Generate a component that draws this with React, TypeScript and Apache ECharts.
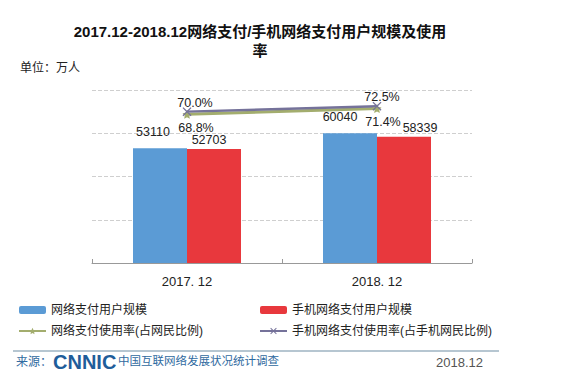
import React, { useEffect, useRef } from "react";
import * as echarts from "echarts";

const categories = ["2017. 12", "2018. 12"];
const netPayUsers = [53110, 60040];
const mobilePayUsers = [52703, 58339];
const netPayRate = [68.8, 71.4];
const mobilePayRate = [70.0, 72.5];

// label nudges (style only)
const blueLabelOffsets = [[-7, 0], [-10, 0]];
const redLabelOffsets = [[-5, 0], [16, 0]];
const greenLabelOffsets = [[9, 0], [6, 0]];
const purpleLabelOffsets = [[8, 0], [5, 0]];

const CJK = '"Liberation Sans", "Noto Sans CJK SC", sans-serif';
const STAR =
  "path://M0,-10 L2.9,-4 9.5,-3.1 4.8,1.5 5.9,8.1 0,5 -5.9,8.1 -4.8,1.5 -9.5,-3.1 -2.9,-4 Z";
const CROSS =
  "path://M-5,-4 L-4,-5 0,-1 4,-5 5,-4 1,0 5,4 4,5 0,1 -4,5 -5,4 -1,0 Z";

const withOffsets = (vals: number[], offs: number[][]) =>
  vals.map((v, i) => ({ value: v, label: { offset: offs[i] } }));

export default function App() {
  const ref = useRef<HTMLDivElement>(null);
  useEffect(() => {
    if (!ref.current) return;
    const chart = echarts.init(ref.current, undefined, { renderer: "svg" });
    const legendText = { fontSize: 12, color: "#222", fontFamily: CJK };
    const pct = (p: any) => Number(p.value).toFixed(1) + "%";
    chart.setOption({
      animation: false,
      backgroundColor: "#fff",
      title: {
        text: "2017.12-2018.12网络支付/手机网络支付用户规模及使用\n率",
        left: 255,
        top: 17,
        textAlign: "center",
        textStyle: {
          fontSize: 15,
          fontWeight: "bold",
          color: "#111",
          fontFamily: CJK,
          lineHeight: 19,
        },
      },
      grid: { left: 92, right: 96, top: 90, bottom: 123 },
      legend: [
        {
          left: 18,
          top: 304,
          padding: 0,
          orient: "vertical",
          itemWidth: 27,
          itemHeight: 8,
          itemGap: 9,
          textStyle: legendText,
          data: ["网络支付用户规模", "网络支付使用率(占网民比例)"],
        },
        {
          left: 259,
          top: 304,
          padding: 0,
          orient: "vertical",
          itemWidth: 27,
          itemHeight: 8,
          itemGap: 9,
          textStyle: legendText,
          data: ["手机网络支付用户规模", "手机网络支付使用率(占手机网民比例)"],
        },
      ],
      xAxis: {
        type: "category",
        data: categories,
        axisLine: { lineStyle: { color: "#999" } },
        axisTick: { show: true, inside: true, length: 4, lineStyle: { color: "#999" } },
        axisLabel: { fontSize: 13, color: "#222", margin: 12, fontFamily: CJK },
      },
      yAxis: [
        {
          type: "value",
          min: 0,
          max: 80000,
          interval: 20000,
          axisLabel: { show: false },
          axisLine: { show: false },
          axisTick: { show: false },
          splitLine: { lineStyle: { color: "#cfcfcf", type: "dashed" } },
        },
        {
          type: "value",
          min: 0,
          max: 80,
          interval: 20,
          show: false,
          splitLine: { show: false },
        },
      ],
      series: [
        {
          name: "网络支付用户规模",
          type: "bar",
          data: withOffsets(netPayUsers, blueLabelOffsets),
          barWidth: 54,
          barGap: "0%",
          itemStyle: { color: "#5b9bd5" },
          label: {
            show: true,
            position: "top",
            distance: 10,
            fontSize: 12.5,
            color: "#222",
            fontFamily: CJK,
          },
        },
        {
          name: "手机网络支付用户规模",
          type: "bar",
          data: withOffsets(mobilePayUsers, redLabelOffsets),
          barWidth: 54,
          barGap: "0%",
          itemStyle: { color: "#e8383d" },
          label: {
            show: true,
            position: "top",
            distance: 3,
            fontSize: 12.5,
            color: "#222",
            fontFamily: CJK,
          },
        },
        {
          name: "网络支付使用率(占网民比例)",
          type: "line",
          yAxisIndex: 1,
          data: withOffsets(netPayRate, greenLabelOffsets),
          symbol: STAR,
          symbolSize: 9,
          lineStyle: { color: "#a3ad6e", width: 3 },
          itemStyle: { color: "#a3ad6e" },
          label: {
            show: true,
            position: "bottom",
            distance: 3,
            fontSize: 12.5,
            color: "#222",
            fontFamily: CJK,
            formatter: pct,
          },
        },
        {
          name: "手机网络支付使用率(占手机网民比例)",
          type: "line",
          yAxisIndex: 1,
          data: withOffsets(mobilePayRate, purpleLabelOffsets),
          symbol: CROSS,
          symbolSize: 9,
          lineStyle: { color: "#75729a", width: 2.5 },
          itemStyle: { color: "#75729a" },
          label: {
            show: true,
            position: "top",
            distance: -2,
            fontSize: 12.5,
            color: "#222",
            fontFamily: CJK,
            formatter: pct,
          },
        },
      ],
      graphic: [
        {
          type: "text",
          left: 20,
          top: 62,
          style: { text: "单位：万人", font: "12px " + CJK, fill: "#222" },
        },
        {
          type: "line",
          shape: { x1: 13, y1: 351, x2: 499, y2: 351 },
          style: { stroke: "#6f8ea3", lineWidth: 1.2 },
        },
        {
          type: "text",
          x: 16,
          y: 362,
          style: {
            text: "来源：",
            font: "12px " + CJK,
            fill: "#2f6aa0",
            textVerticalAlign: "middle",
          },
        },
        {
          type: "text",
          x: 53,
          y: 362,
          style: {
            text: "CNNIC",
            font: 'bold 20px "Liberation Sans", Arial, sans-serif',
            fill: "#1f5d9a",
            textVerticalAlign: "middle",
          },
        },
        {
          type: "text",
          x: 118,
          y: 361,
          style: {
            text: "中国互联网络发展状况统计调查",
            font: "11.5px " + CJK,
            fill: "#2f6aa0",
            textVerticalAlign: "middle",
          },
        },
        {
          type: "text",
          x: 483,
          y: 362,
          style: {
            text: "2018.12",
            font: "13px " + CJK,
            fill: "#555",
            textAlign: "right",
            textVerticalAlign: "middle",
          },
        },
      ],
    });
    return () => chart.dispose();
  }, []);
  return <div ref={ref} style={{ width: 568, height: 386, position: "absolute", left: 0, top: 0 }} />;
}
